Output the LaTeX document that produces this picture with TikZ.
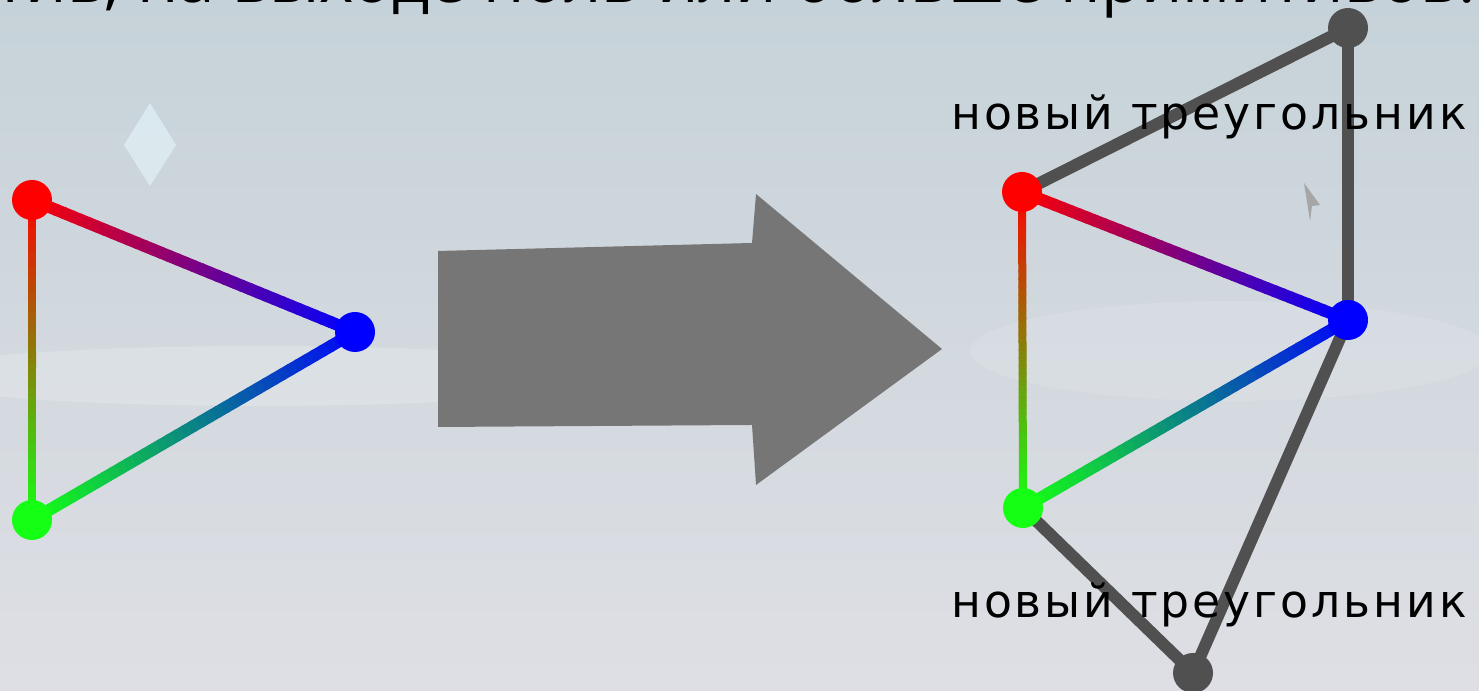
\documentclass[tikz,border=0pt]{standalone}
\usepackage{fontspec}
\newfontfamily\labelfont[LetterSpace=6.5]{DejaVu Sans}
\newfontfamily\headfont{Open Sans}
\usetikzlibrary{calc}
\pgfdeclarelayer{back}
\pgfdeclarelayer{edges}
\pgfsetlayers{back,edges,main}
\definecolor{bgtop}{RGB}{198,210,217}
\definecolor{bgmid}{RGB}{200,200,212}
\definecolor{bgbot}{RGB}{222,223,228}
\definecolor{arrowgray}{RGB}{118,118,118}
\definecolor{edgegray}{RGB}{80,80,80}
\definecolor{vred}{RGB}{255,0,0}
\definecolor{vgreen}{RGB}{20,255,20}
\definecolor{vblue}{RGB}{0,0,255}
\tikzset{
  vert/.style={circle,minimum size=0.4cm,inner sep=0pt},
  newedge/.style={edgegray,line width=0.12cm,line cap=round},
  tricap/.style={font=\labelfont\fontsize{13}{15}\selectfont,anchor=base,inner sep=0pt},
  headtext/.style={font=\headfont\fontsize{18.6}{22}\selectfont,inner sep=0pt}
}
\newcommand\gradedge[5]{%
  \foreach \i in {0,...,39}{
    \pgfmathsetmacro\s{\i/40}
    \pgfmathsetmacro\e{(\i+1)/40}
    \pgfmathsetmacro\p{100-(\i+0.5)*2.5}
    \draw[line width=#5,line cap=round,color=#3!\p!#4] ($(#1)!\s!(#2)$) -- ($(#1)!\e!(#2)$);
  }}
\begin{document}
\begin{tikzpicture}
    \useasboundingbox (0,0) rectangle (14.79,6.91);
    \clip (0,0) rectangle (14.79,6.91);
    \begin{pgfonlayer}{back}
        \fill [top color=bgtop, middle color=bgmid, bottom color=bgbot] (0,0) rectangle (14.79,6.91);
        \fill [white, opacity=0.2] (2.6,3.15) ellipse (3.6 and 0.3);
        \fill [white, opacity=0.12] (12.3,3.4) ellipse (2.6 and 0.5);
        \fill [cyan!10!white, opacity=0.6] (1.50,5.88) -- (1.76,5.46) -- (1.50,5.05) -- (1.24,5.46) -- cycle;
    \end{pgfonlayer}
    \node [headtext, anchor=base east] (head) at (14.76,6.88) {тив, на выходе ноль или больше примитивов.};
    \node [vert, fill=vred] (r1) at (0.32,4.91) {};
    \node [vert, fill=vblue] (b1) at (3.55,3.59) {};
    \node [vert, fill=vgreen] (g1) at (0.32,1.71) {};
    \node [vert, fill=vred] (r2) at (10.22,4.99) {};
    \node [vert, fill=vblue] (b2) at (13.48,3.71) {};
    \node [vert, fill=vgreen] (g2) at (10.23,1.83) {};
    \node [vert, fill=edgegray] (t2) at (13.48,6.63) {};
    \node [vert, fill=edgegray] (d2) at (11.93,0.18) {};
    \node [tricap] (cap1) at (12.09,5.61) {новый треугольник};
    \node [tricap] (cap2) at (12.09,0.73) {новый треугольник};
    \fill [arrowgray] (4.38,4.40) -- (7.52,4.48) -- (7.56,4.97) -- (9.42,3.42) -- (7.56,2.06) -- (7.52,2.66) -- (4.38,2.64) -- cycle;
    \fill [gray!70] (13.04,5.08) -- (13.20,4.86) -- (13.12,4.85) -- (13.10,4.70) -- cycle;
    \begin{pgfonlayer}{edges}
        \gradedge{r1}{b1}{vred}{vblue}{0.12cm}
        \gradedge{b1}{g1}{vblue}{vgreen}{0.12cm}
        \gradedge{r1}{g1}{vred}{vgreen}{0.08cm}
        \gradedge{r2}{b2}{vred}{vblue}{0.12cm}
        \gradedge{b2}{g2}{vblue}{vgreen}{0.12cm}
        \gradedge{r2}{g2}{vred}{vgreen}{0.08cm}
        \draw [newedge] (r2.center) -- (t2.center);
        \draw [newedge] (t2.center) -- (b2.center);
        \draw [newedge] (b2.center) -- (d2.center);
        \draw [newedge] (g2.center) -- (d2.center);
    \end{pgfonlayer}
\end{tikzpicture}
\end{document}
